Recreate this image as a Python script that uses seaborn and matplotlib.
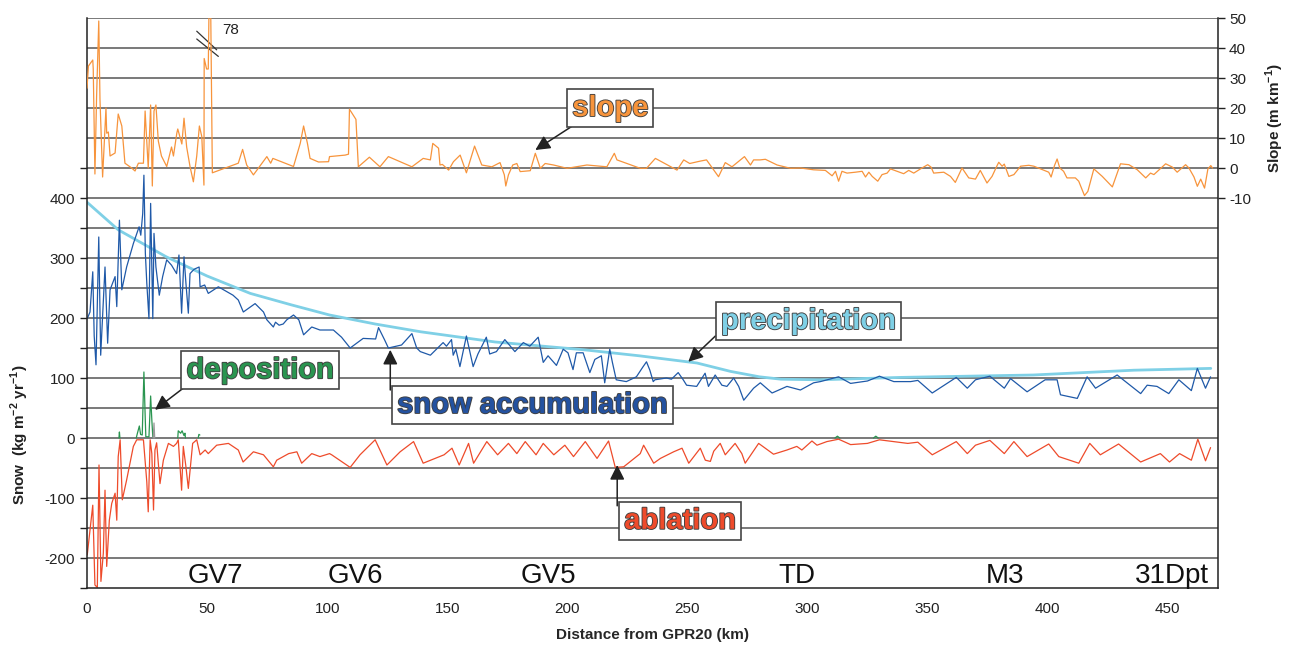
import numpy as np
import pandas as pd
import matplotlib
matplotlib.use("Agg")
import matplotlib.pyplot as plt
import matplotlib.patheffects as pe
import seaborn as sns

# ---- profile data along the traverse (distance in km) ----
slope_km = [0.0, 0.6, 2.4, 2.6, 3.3, 4.0, 4.9, 5.4, 6.5, 7.9, 8.2, 8.9, 9.6, 11.7, 13.0, 14.5, 15.8,
            18.6, 20.0, 21.4, 23.5, 24.2, 24.9, 25.5, 26.5, 27.2, 27.9, 28.7, 29.7, 31.0, 33.2, 35.2,
            36.0, 37.4, 37.8, 39.5, 40.4, 41.5, 42.9, 44.3, 45.7, 46.8, 47.8, 48.7, 48.8, 49.8, 50.5,
            51.2, 52.2, 63.0, 64.8, 66.5, 69.3, 74.9, 76.5, 77.4, 86.0, 88.8, 90.2, 91.8, 92.9, 96.4,
            100.6, 101.0, 107.5, 108.9, 109.3, 112.0, 113.0, 117.6, 122.0, 125.5, 135.3, 140.0, 143.0,
            144.0, 146.4, 147.0, 148.0, 150.6, 152.6, 155.4, 158.0, 161.4, 164.4, 168.6, 172.0, 173.8,
            174.4, 175.5, 177.3, 179.0, 180.4, 184.6, 186.7, 188.8, 190.8, 194.3, 199.9, 208.2, 216.5,
            219.6, 220.7, 230.4, 233.0, 236.7, 245.7, 248.5, 251.0, 255.4, 258.0, 263.0, 265.8, 268.6,
            273.8, 276.3, 277.6, 280.3, 282.5, 287.4, 293.0, 297.1, 302.6, 307.5, 310.3, 311.7, 313.0,
            314.4, 316.5, 320.0, 322.8, 324.2, 325.6, 327.0, 329.3, 331.1, 333.2, 334.6, 337.4, 340.1,
            342.2, 344.3, 347.1, 350.1, 351.5, 352.6, 356.8, 359.6, 361.6, 364.4, 367.2, 370.0, 372.0,
            374.8, 376.9, 379.0, 379.7, 381.1, 382.0, 383.9, 386.0, 388.8, 392.2, 394.3, 400.5, 401.5,
            402.9, 404.0, 405.1, 406.7, 408.1, 411.6, 413.0, 415.4, 416.8, 419.3, 422.8, 427.0, 430.4,
            433.9, 437.4, 440.9, 442.9, 444.3, 449.2, 452.0, 454.0, 457.5, 458.9, 461.0, 462.4, 463.8,
            465.4, 466.8, 468.0, 468.7]
slope_val = [26.6, 34, 36, 33, -2, 24, 49, 23, -3, 20, 11.6, 12, 4, 5, 18, 14, 1.6,
             0, -1, 1.6, 1.6, 19, 9, 0, 21, -6, 19, 21, 9, 4, 0.5, 7,
             4, 11.6, 13, 8, 16.6, 7, 0.5, -4.6, 4, 14, 10.5, -5.7, 36.5, 33, 33,
             78, -1.6, 1.6, 6.2, 1, -2.3, 3.8, 1.6, 3.2, 0.5, 8.2, 14, 8.2, 3.2, 2,
             2.1, 3.8, 4.3, 4.6, 19.6, 16.2, 0.4, 3.6, 0.4, 3.8, 0.4, 3.2, 2.7,
             8.2, 6.6, 1, 1.2, -0.7, 2.1, 4.3, -1.6, 7.3, 1, 0.4, 1.8, -2.3,
             -6, -2.3, 1, 1.5, -1.2, -0.9, 4.9, -0.1, 1.5, 1, -0.1, 1, 0.4,
             4.9, 2.7, -0.1, -0.1, 3.2, -0.7, 2.7, 1.5, 2.3, 2.7, -2.9, 1.8, 0.4,
             3.8, 1, 2.7, 2.7, 2.9, 1, -0.1, 0, -0.6, -0.8, -2.6, -1.1, -4.4,
             -1.1, -1.7, -1.4, -1.1, -3, -1.4, -2.8, -4.4, -2.2, -1.7, -0.3, -1.1, -1.9,
             -0.8, -1.7, -0.3, 1.1, 0.3, -1.7, -1.4, -2.8, -4.8, 0, -3.3, -3.7, -0.8,
             -5, -2.8, 0.8, 1.9, 0.6, 1.3, -2.8, -2.2, 0.6, 0.9, 0.6, -1.4, -3,
             0.8, 3, 0, -1.1, -3.3, -3.3, -4.4, -9.2, -7.8, -0.3, -2.8, -6.3, 1.4,
             1.1, -0.6, -3.3, -1.7, -2.2, 1.4, 0.3, -1.4, 1.1, 0, -3, -6.1, -3.7,
             -6.7, -0.3, 0.8, 0]

accum_km = [0.1, 1.25, 2.4, 3.0, 3.75, 4.9, 5.7, 7.5, 8.6, 9.6, 11.7, 12.4, 13.5, 14.5, 16.5, 19.3,
            21.7, 22.4, 23.2, 23.7, 24.3, 24.9, 25.8, 26.5, 27.4, 27.9, 28.7, 30.1, 31.5, 33.2, 35.2,
            37.3, 38.3, 39.4, 40.4, 41.2, 42.2, 42.9, 44.3, 45.0, 46.7, 47.1, 49.0, 50.5, 54.7, 60.8,
            63.0, 65.1, 70.0, 73.5, 74.9, 77.6, 78.5, 80.0, 81.7, 83.2, 86.0, 88.2, 90.2, 93.6, 97.0,
            101.0, 102.6, 106.0, 109.6, 113.0, 115.0, 120.2, 121.4, 124.0, 125.5, 131.0, 135.3, 137.3,
            138.8, 143.0, 148.3, 149.7, 151.8, 152.5, 153.6, 155.3, 158.0, 160.8, 162.8, 166.3, 167.7,
            170.5, 174.0, 178.2, 181.7, 184.4, 187.9, 190.0, 192.0, 195.5, 198.3, 200.3, 202.4, 203.8,
            206.6, 209.4, 211.5, 214.2, 215.6, 217.7, 218.8, 220.4, 224.6, 228.8, 231.6, 233.0, 234.4,
            235.8, 236.5, 241.3, 243.4, 246.2, 248.3, 249.7, 253.9, 257.4, 258.8, 261.6, 264.4, 266.5,
            269.3, 271.4, 273.5, 277.6, 280.4, 285.3, 291.5, 297.1, 302.6, 305.4, 313.0, 318.0, 325.0,
            330.0, 336.0, 343.0, 346.0, 352.0, 362.0, 366.6, 370.0, 376.0, 382.0, 384.6, 391.5, 399.0,
            404.0, 405.4, 412.4, 416.5, 420.0, 429.0, 438.8, 441.5, 445.6, 450.5, 454.7, 459.9, 462.4,
            465.8, 467.9]
accum_val = [199, 210, 277, 170, 122, 335, 138, 285, 158, 247, 269, 219, 363, 247, 285, 324,
             352, 338, 374, 438, 308, 258, 199, 391, 199, 341, 285, 238, 269, 297, 288,
             274, 305, 208, 302, 258, 208, 274, 280, 282, 285, 252, 255, 241, 252, 238,
             230, 210, 224, 210, 197, 185, 193, 188, 190, 197, 205, 197, 172, 185, 180,
             180, 180, 168, 150, 160, 166, 165, 184, 163, 150, 155, 174, 150,
             144, 138, 159, 153, 164, 138, 148, 119, 170, 119, 140, 168, 140,
             144, 164, 144, 159, 153, 168, 126, 137, 121, 148, 142, 114, 142,
             142, 109, 131, 137, 92, 148, 126, 97, 94, 102, 119, 127, 113,
             94, 97, 100, 98, 109, 97, 88, 86, 108, 86, 105, 88, 86,
             100, 86, 63, 83, 92, 75, 86, 80, 92, 94, 102, 91, 95,
             103, 94, 94, 96, 75, 101, 83, 97, 103, 83, 99, 77, 97,
             97, 72, 66, 102, 83, 105, 74, 88, 86, 74, 97, 79, 116,
             83, 102]

precip_km = [0, 13, 33, 50, 68, 85, 101, 120, 139, 170, 207, 230, 254, 268, 280, 289, 305,
             339, 394, 436, 468]
precip_val = [393, 347, 302, 270, 241, 222, 205, 190, 177, 160, 147, 137, 125, 111, 102, 98, 97,
              101, 105, 113, 116]

ablation_km = [0.1, 2.4, 3.3, 4.3, 5.0, 5.8, 6.8, 7.5, 8.2, 9.3, 10.3, 11.7, 12.4, 13.0, 13.8, 14.7,
               16.5, 19.3, 20.7, 23.5, 24.9, 25.5, 26.3, 27.0, 27.7, 28.3, 29.0, 30.4, 31.8, 33.9,
               36.0, 37.3, 38.0, 39.4, 40.1, 41.2, 42.2, 44.0, 45.7, 47.1, 49.2, 50.5, 54.0, 58.9,
               63.0, 65.0, 69.3, 73.5, 77.6, 79.0, 84.0, 87.4, 89.4, 93.6, 97.0, 101.0, 101.9, 109.6,
               113.7, 120.0, 124.9, 130.4, 136.0, 140.0, 148.7, 152.0, 155.0, 158.9, 161.0, 166.5,
               171.0, 175.5, 179.0, 182.5, 187.0, 190.0, 194.4, 199.0, 202.6, 207.5, 212.4, 217.2,
               220.0, 223.5, 230.4, 231.8, 236.0, 238.8, 244.3, 247.8, 250.6, 255.4, 257.5, 259.6,
               261.0, 263.7, 265.8, 269.9, 272.7, 274.1, 279.7, 285.9, 291.5, 295.6, 297.7, 301.9,
               304.0, 308.1, 313.0, 318.0, 325.0, 330.0, 341.8, 346.0, 352.0, 362.0, 366.6, 370.0,
               376.0, 382.0, 386.0, 391.5, 400.5, 404.7, 413.0, 417.6, 422.0, 429.6, 438.8, 447.0,
               450.8, 455.0, 459.9, 462.6, 465.8, 467.9]
ablation_val = [-195, -112, -245, -249, -45, -239, -192, -87, -214, -137, -109, -92, -137, -31, -3, -103,
                -70, -14, -3, -3, -73, -123, -3, -26, -120, -20, -8, -76, -37, -9,
                -14, -9, -3, -87, -14, -48, -84, -9, -3, -28, -20, -26, -12, -9,
                -20, -40, -23, -28, -48, -37, -26, -23, -42, -26, -31, -26, -28, -49,
                -28, -3, -45, -23, -6, -42, -28, -17, -45, -9, -42, -6,
                -28, -9, -26, -6, -28, -9, -28, -12, -31, -6, -34, -5,
                -49, -48, -26, -12, -42, -34, -23, -17, -42, -17, -37, -39,
                -22, -9, -28, -9, -26, -42, -9, -27, -20, -14, -20, -5,
                -12, -6, -2, -11, -9, -3, -9, -7, -28, -6, -26, -12,
                -4, -26, -6, -31, -10, -31, -42, -9, -28, -10, -40, -26,
                -40, -26, -37, -2, -38, -16]

# deposition only occurs in short stretches
deposition_km = [[13.3, 13.5, 13.7],
                 [20.5, 21.0, 21.8, 22.3, 23.0, 23.7, 24.2, 24.5, 25.8, 26.5, 27.0, 27.4],
                 [37.8, 38.0, 39.0, 39.6, 40.4, 40.8, 41.0],
                 [46.3, 46.6, 47.0],
                 [311.5, 312.5, 313.5],
                 [327.5, 328.5, 329.5]]
deposition_val = [[0, 10, 0],
                  [0, 8, 20, 6, 5, 110, 40, 2, 2, 70, 30, 2],
                  [0, 12, 8, 12, 4, 8, 0],
                  [0, 6, 5],
                  [0, 3, 0],
                  [0, 3, 0]]
uncertain_km = [27.6, 27.9, 28.2]
uncertain_val = [0, 25, 0]

stations = ["GV7", "GV6", "GV5", "TD", "M3", "31Dpt"]
station_km = [53.3, 111.7, 192.0, 295.8, 382.5, 452.0]

# ---- styling ----
sns.set_style("white")
plt.rcParams["font.family"] = ["Liberation Sans", "DejaVu Sans"]
plt.rcParams["axes.unicode_minus"] = False
plt.rcParams["mathtext.fontset"] = "custom"
plt.rcParams["mathtext.rm"] = "Liberation Sans"
plt.rcParams["mathtext.bf"] = "Liberation Sans:bold"

C_SLOPE = "#F7943C"
C_ACC = "#1F59A8"
C_PREC = "#7FD0E6"
C_DEP = "#2A9550"
C_ABL = "#EE4B2B"
GRID = "#555555"

fig = plt.figure(figsize=(12.89, 6.48), dpi=100)
ax = fig.add_axes([87 / 1289, 60 / 648, (1218 - 87) / 1289, (588 - 18) / 648])
ax.set_xlim(0, 471)
ax.set_ylim(-250, 700)

for yv in range(-200, 701, 50):
    ax.axhline(yv, color=GRID, lw=1.1, zorder=0.5)

def line(axis, xs, ys, color, lw):
    df = pd.DataFrame({"km": xs, "v": ys})
    sns.lineplot(data=df, x="km", y="v", ax=axis, color=color, lw=lw,
                 estimator=None, sort=False, legend=False)

line(ax, precip_km, precip_val, C_PREC, 2.0)
line(ax, accum_km, accum_val, C_ACC, 0.9)
line(ax, ablation_km, ablation_val, C_ABL, 0.9)
for xs, ys in zip(deposition_km, deposition_val):
    line(ax, xs, ys, C_DEP, 0.9)
line(ax, uncertain_km, uncertain_val, "#9a9a9a", 0.9)

# slope on its own scale (right)
ax2 = ax.twinx()
ax2.set_ylim(-140, 50)
line(ax2, slope_km, slope_val, C_SLOPE, 0.9)
ax2.set_ylabel("")
ax2.set_yticks(range(-10, 51, 10))
ax2.tick_params(axis="y", direction="out", length=5, width=1, color="#222", labelsize=11,
                pad=3, labelcolor="#222")
for s in ["top", "left", "bottom"]:
    ax2.spines[s].set_visible(False)
ax2.spines["right"].set_color("#222")
ax2.spines["right"].set_linewidth(1.1)

# axis ticks
ax.set_yticks(range(-200, 401, 100))
ax.set_yticks(range(-250, 451, 50), minor=True)
ax.set_xticks(range(0, 451, 50))
ax.tick_params(axis="both", which="major", direction="out", length=5, width=1, color="#222",
               labelsize=11, labelcolor="#222")
ax.tick_params(axis="y", which="minor", direction="out", length=5, width=1, color="#222")
ax.tick_params(axis="x", pad=5)
ax.set_xlabel("Distance from GPR20 (km)", fontsize=11, fontweight="bold", labelpad=9)
ax.set_ylabel("")
for s in ["top", "right"]:
    ax.spines[s].set_visible(False)
for s in ["left", "bottom"]:
    ax.spines[s].set_color("#222")
    ax.spines[s].set_linewidth(1.1)

fig.text(20 / 1289, 1 - 435 / 648, r"Snow  (kg m$^{\mathbf{-2}}$ yr$^{\mathbf{-1}}$)",
         rotation=90, ha="center", va="center", fontsize=11, fontweight="bold", color="#222")
fig.text(1275 / 1289, 1 - 118 / 648, r"Slope (m km$^{\mathbf{-1}}$)",
         rotation=90, ha="center", va="center", fontsize=11, fontweight="bold", color="#222")

# station names along the bottom
for name, km in zip(stations, station_km):
    ax.text(km, -230, name, ha="center", va="center", fontsize=20, color="#111", zorder=3)

# axis break on the clipped slope spike
ax.plot([45.7, 54.0], [678, 647], color="#333", lw=0.9, clip_on=False, zorder=6)
ax.plot([45.7, 54.7], [665, 636], color="#333", lw=0.9, clip_on=False, zorder=6)
ax.text(56.3, 680, "78", fontsize=11, ha="left", va="center", color="#222")

# labelled boxes with arrows
outline = [pe.withStroke(linewidth=1.3, foreground="#404040")]
box = dict(boxstyle="square,pad=0.18", fc="white", ec="#444", lw=1.2)
arrow = dict(arrowstyle="-|>", color="#222", lw=1.1, mutation_scale=22, shrinkA=0, shrinkB=0)

labels = [
    ("slope", C_SLOPE, 217.9, 550, (203.3, 523), (186.7, 480)),
    ("precipitation", C_PREC, 300.4, 195, (261.7, 170), (250.4, 127)),
    ("deposition", C_DEP, 72.1, 113, (41.7, 88), (28.3, 47)),
    ("snow accumulation", "#2452A0", 185.4, 55, (126.3, 80), (126.3, 147)),
    ("ablation", C_ABL, 247.0, -138, (220.8, -113), (220.8, -45)),
]
for text, col, tx, ty, start, tip in labels:
    ax.annotate("", xy=tip, xytext=start, arrowprops=arrow, zorder=7)
    t = ax.text(tx, ty, text, color=col, fontsize=21, fontweight="bold", ha="center",
                va="center", bbox=box, zorder=8)
    t.set_path_effects(outline)

fig.savefig("out.png", dpi=100)
